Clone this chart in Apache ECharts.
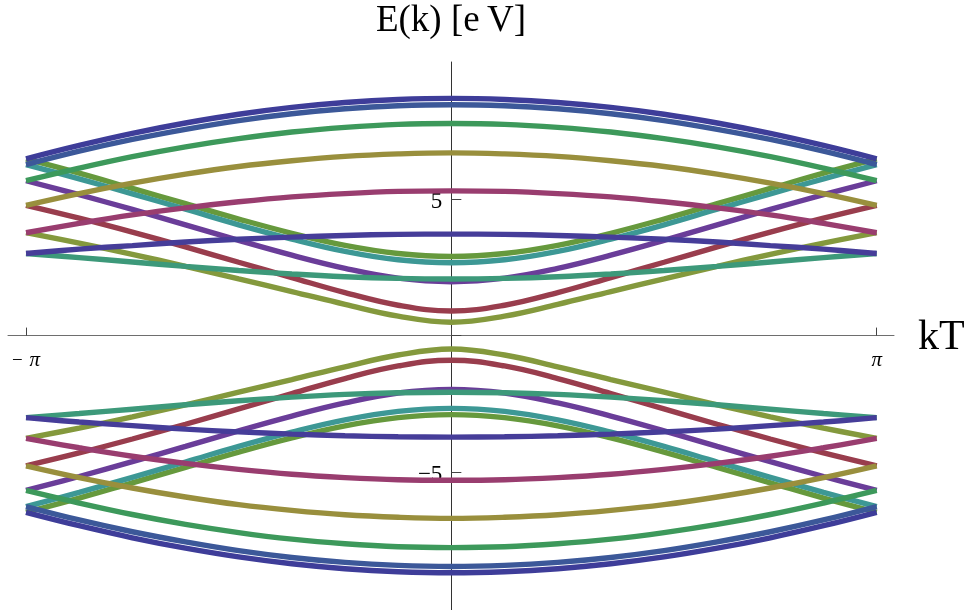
<!DOCTYPE html>
<html>
<head>
<meta charset="utf-8">
<script src="https://cdn.jsdelivr.net/npm/echarts@6/dist/echarts.min.js"></script>
<style>
  html, body { margin: 0; padding: 0; background: #ffffff; }
  #chart { width: 971px; height: 610px; }
</style>
</head>
<body>
<div id="chart"></div>
<script>
// Wave-vector grid, in units of pi/8, from -pi to pi
const kSteps = [-8, -7, -6, -5, -4, -3, -2, -1, 0, 1, 2, 3, 4, 5, 6, 7, 8];

// Upper (conduction) bands, E in eV at each grid point
const cb0  = [6.46, 6.95, 7.39, 7.77, 8.09, 8.34, 8.52, 8.63, 8.67, 8.63, 8.52, 8.34, 8.09, 7.77, 7.39, 6.95, 6.46];
const cb1  = [6.25, 6.74, 7.17, 7.54, 7.86, 8.11, 8.29, 8.40, 8.44, 8.40, 8.29, 8.11, 7.86, 7.54, 7.17, 6.74, 6.25];
const cb2  = [5.66, 6.12, 6.54, 6.90, 7.20, 7.44, 7.61, 7.72, 7.75, 7.72, 7.61, 7.44, 7.20, 6.90, 6.54, 6.12, 5.66];
const cb3  = [4.76, 5.19, 5.57, 5.90, 6.18, 6.39, 6.55, 6.64, 6.68, 6.64, 6.55, 6.39, 6.18, 5.90, 5.57, 5.19, 4.76];
const cb4  = [3.76, 4.10, 4.41, 4.67, 4.89, 5.07, 5.19, 5.27, 5.29, 5.27, 5.19, 5.07, 4.89, 4.67, 4.41, 4.10, 3.76];
const cb5  = [3.00, 3.16, 3.29, 3.42, 3.52, 3.60, 3.66, 3.70, 3.71, 3.70, 3.66, 3.60, 3.52, 3.42, 3.29, 3.16, 3.00];
const cb6  = [3.00, 2.85, 2.69, 2.53, 2.38, 2.25, 2.15, 2.09, 2.07, 2.09, 2.15, 2.25, 2.38, 2.53, 2.69, 2.85, 3.00];
const cb7  = [3.76, 3.38, 2.97, 2.53, 2.07, 1.61, 1.14, 0.71, 0.49, 0.71, 1.14, 1.61, 2.07, 2.53, 2.97, 3.38, 3.76];
const cb8  = [4.76, 4.29, 3.78, 3.24, 2.68, 2.12, 1.57, 1.11, 0.90, 1.11, 1.57, 2.12, 2.68, 3.24, 3.78, 4.29, 4.76];
const cb9  = [5.66, 5.15, 4.61, 4.05, 3.48, 2.94, 2.46, 2.10, 1.97, 2.10, 2.46, 2.94, 3.48, 4.05, 4.61, 5.15, 5.66];
const cb10 = [6.25, 5.73, 5.18, 4.62, 4.05, 3.53, 3.08, 2.77, 2.66, 2.77, 3.08, 3.53, 4.05, 4.62, 5.18, 5.73, 6.25];
const cb11 = [6.46, 5.94, 5.38, 4.82, 4.26, 3.74, 3.30, 3.00, 2.89, 3.00, 3.30, 3.74, 4.26, 4.82, 5.38, 5.94, 6.46];

// Lower (valence) bands
const vb0  = [-6.46, -6.95, -7.39, -7.77, -8.09, -8.34, -8.52, -8.63, -8.67, -8.63, -8.52, -8.34, -8.09, -7.77, -7.39, -6.95, -6.46];
const vb1  = [-6.25, -6.74, -7.17, -7.54, -7.86, -8.11, -8.29, -8.40, -8.44, -8.40, -8.29, -8.11, -7.86, -7.54, -7.17, -6.74, -6.25];
const vb2  = [-5.66, -6.12, -6.54, -6.90, -7.20, -7.44, -7.61, -7.72, -7.75, -7.72, -7.61, -7.44, -7.20, -6.90, -6.54, -6.12, -5.66];
const vb3  = [-4.76, -5.19, -5.57, -5.90, -6.18, -6.39, -6.55, -6.64, -6.68, -6.64, -6.55, -6.39, -6.18, -5.90, -5.57, -5.19, -4.76];
const vb4  = [-3.76, -4.10, -4.41, -4.67, -4.89, -5.07, -5.19, -5.27, -5.29, -5.27, -5.19, -5.07, -4.89, -4.67, -4.41, -4.10, -3.76];
const vb5  = [-3.00, -3.16, -3.29, -3.42, -3.52, -3.60, -3.66, -3.70, -3.71, -3.70, -3.66, -3.60, -3.52, -3.42, -3.29, -3.16, -3.00];
const vb6  = [-3.00, -2.85, -2.69, -2.53, -2.38, -2.25, -2.15, -2.09, -2.07, -2.09, -2.15, -2.25, -2.38, -2.53, -2.69, -2.85, -3.00];
const vb7  = [-3.76, -3.38, -2.97, -2.53, -2.07, -1.61, -1.14, -0.71, -0.49, -0.71, -1.14, -1.61, -2.07, -2.53, -2.97, -3.38, -3.76];
const vb8  = [-4.76, -4.29, -3.78, -3.24, -2.68, -2.12, -1.57, -1.11, -0.90, -1.11, -1.57, -2.12, -2.68, -3.24, -3.78, -4.29, -4.76];
const vb9  = [-5.66, -5.15, -4.61, -4.05, -3.48, -2.94, -2.46, -2.10, -1.97, -2.10, -2.46, -2.94, -3.48, -4.05, -4.61, -5.15, -5.66];
const vb10 = [-6.25, -5.73, -5.18, -4.62, -4.05, -3.53, -3.08, -2.77, -2.66, -2.77, -3.08, -3.53, -4.05, -4.62, -5.18, -5.73, -6.25];
const vb11 = [-6.46, -5.94, -5.38, -4.82, -4.26, -3.74, -3.30, -3.00, -2.89, -3.00, -3.30, -3.74, -4.26, -4.82, -5.38, -5.94, -6.46];

// One colour per band index, shared by the upper and lower branch
const bandColors = ['#3e3d99', '#3c5899', '#3d995b', '#998f3d', '#993d6f', '#463d99',
                    '#3d997a', '#84993d', '#993d4d', '#6a3d99', '#3d9895', '#66993d'];

// Axis ticks and their labels
const xTickValues = [-Math.PI, 0, Math.PI];
const xLabelValues = [-Math.PI, Math.PI];
const yTickValues = [-5, 0, 5];
const yLabelValues = [-5, 5];

const upperBands = [cb0, cb1, cb2, cb3, cb4, cb5, cb6, cb7, cb8, cb9, cb10, cb11];
const lowerBands = [vb0, vb1, vb2, vb3, vb4, vb5, vb6, vb7, vb8, vb9, vb10, vb11];
const kValues = kSteps.map(s => s * Math.PI / 8);

function bandSeries(values, color) {
  return {
    type: 'line',
    data: values.map((e, i) => [kValues[i], e]),
    showSymbol: false,
    smooth: 0.4,
    silent: true,
    lineStyle: { color: color, width: 5.4, cap: 'butt' },
    emphasis: { disabled: true }
  };
}

const series = [];
for (let i = upperBands.length - 1; i >= 0; i--) {
  series.push(bandSeries(upperBands[i], bandColors[i]));
  series.push(bandSeries(lowerBands[i], bandColors[i]));
}

const serif = '"Liberation Serif", "DejaVu Serif", serif';

const chart = echarts.init(document.getElementById('chart'), null, { renderer: 'canvas' });
chart.setOption({
  animation: false,
  backgroundColor: '#ffffff',
  grid: { left: 8, right: 77, top: 62, bottom: 0, containLabel: false, outerBoundsMode: 'none' },
  xAxis: {
    type: 'value',
    min: -3.2746,
    max: 3.2694,
    position: 'bottom',
    axisLine: { onZero: true, lineStyle: { color: '#6e6e6e', width: 1 } },
    axisTick: { inside: true, length: 8, customValues: xTickValues, lineStyle: { color: '#444' } },
    axisLabel: { show: false },
    splitLine: { show: false }
  },
  yAxis: {
    type: 'value',
    min: -10.03,
    max: 10,
    axisLine: { onZero: true, lineStyle: { color: '#333', width: 1 } },
    axisTick: { inside: true, length: 10, customValues: yTickValues, lineStyle: { color: '#444' } },
    axisLabel: { show: false },
    splitLine: { show: false }
  },
  series: series
});

// Tick labels sit next to the axes that cross at the origin
const texts = [];
xLabelValues.forEach(v => {
  const p = chart.convertToPixel({ gridIndex: 0 }, [v, 0]);
  texts.push({
    type: 'text', x: p[0], y: p[1] + 25, silent: true,
    style: {
      text: v < 0 ? '{m|\u2212}  {p|\u03c0}' : '{p|\u03c0}',
      align: 'center', verticalAlign: 'middle',
      rich: {
        m: { fontFamily: serif, fontSize: 19, fill: '#000' },
        p: { fontFamily: serif, fontStyle: 'italic', fontSize: 21, fill: '#000' }
      }
    }
  });
});
yLabelValues.forEach(v => {
  const p = chart.convertToPixel({ gridIndex: 0 }, [0, v]);
  texts.push({
    type: 'text', x: p[0] - 9, y: p[1] + 3, silent: true,
    style: {
      text: (v < 0 ? '\u2212' : '') + Math.abs(v),
      font: '23px ' + serif, fill: '#000', align: 'right', verticalAlign: 'middle'
    }
  });
});
texts.push({
  type: 'text', x: 451, y: 21, silent: true,
  style: { text: 'E(k) [e\u2009V]', font: '37px ' + serif, fill: '#000', align: 'center', verticalAlign: 'middle' }
});
texts.push({
  type: 'text', x: 918, y: 338, silent: true,
  style: { text: 'kT', font: '42px ' + serif, fill: '#000', align: 'left', verticalAlign: 'middle' }
});
chart.setOption({ graphic: texts });
</script>
</body>
</html>
